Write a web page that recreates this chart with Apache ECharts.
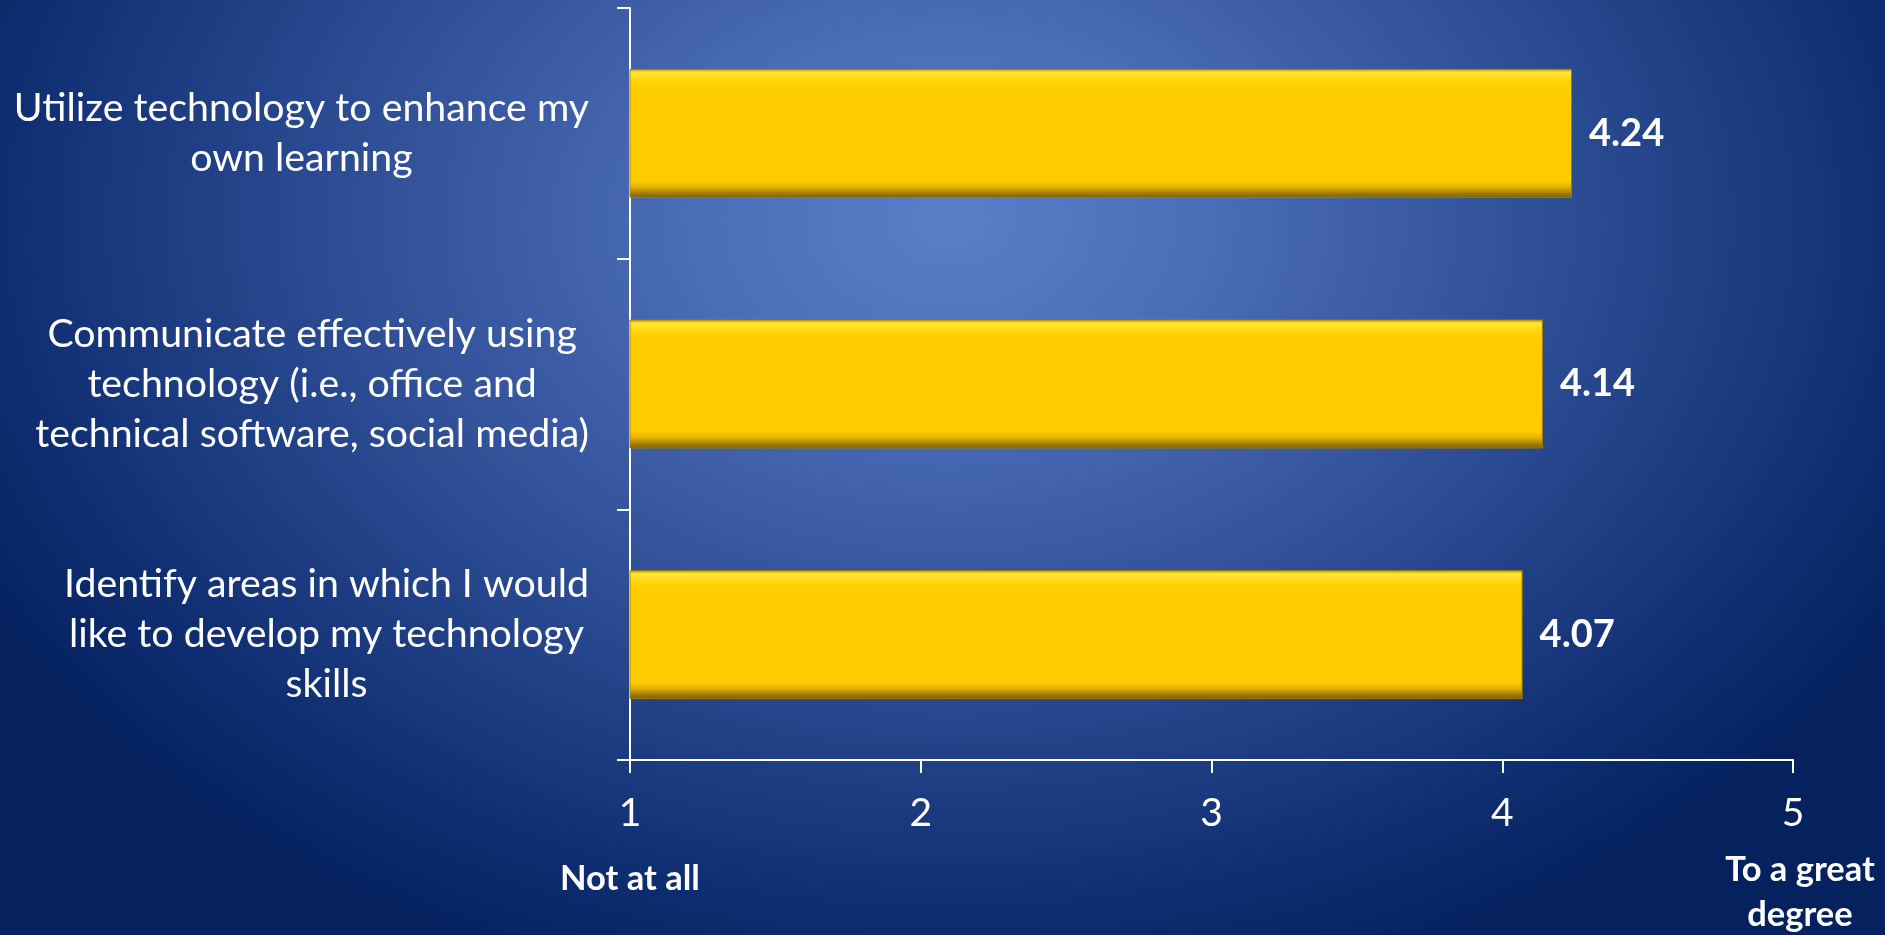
<!DOCTYPE html>
<html>
<head>
<meta charset="utf-8">
<script src="https://cdn.jsdelivr.net/npm/echarts@6/dist/echarts.min.js"></script>
<style>
  html, body { margin: 0; padding: 0; width: 100%; height: 100%; overflow: hidden; }
  body {
    background: radial-gradient(ellipse 1100px 800px at 950px 220px,
      #5c7ec8 0%, #4a6bb5 25%, #2d4d95 55%, #102f73 85%, #05225f 100%);
  }
  #chart { width: 1885px; height: 935px; }
</style>
</head>
<body>
<div id="chart"></div>
<script>
const categories = [
  'Utilize technology to enhance my\nown learning',
  'Communicate effectively using\ntechnology (i.e., office and\ntechnical software, social media)',
  'Identify areas in which I would\nlike to develop my technology\nskills'
];
const values = [4.24, 4.14, 4.07];
const scaleEndLabels = ['Not at all', '', '', '', 'To a great\ndegree'];

const FONT = 'Lato, "Open Sans", sans-serif';
const chart = echarts.init(document.getElementById('chart'), null, { renderer: 'canvas' });

const barGradient = new echarts.graphic.LinearGradient(0, 0, 0, 1, [
  { offset: 0.00, color: '#c99c00' },
  { offset: 0.03, color: '#ffe838' },
  { offset: 0.09, color: '#ffd60a' },
  { offset: 0.15, color: '#ffcc00' },
  { offset: 0.87, color: '#ffcc00' },
  { offset: 0.92, color: '#e0b000' },
  { offset: 0.97, color: '#9c7700' },
  { offset: 1.00, color: '#7a5c00' }
]);

chart.setOption({
  backgroundColor: 'transparent',
  animation: false,
  grid: { left: 630, right: 92, top: 8, bottom: 175, containLabel: false },
  xAxis: [
    {
      type: 'value',
      min: 1, max: 5, interval: 1,
      position: 'bottom',
      axisLine: { show: true, lineStyle: { color: '#ffffff', width: 2 } },
      axisTick: { show: true, length: 13, inside: false, lineStyle: { color: '#ffffff', width: 2 } },
      splitLine: { show: false },
      axisLabel: { color: '#ffffff', fontFamily: FONT, fontSize: 39, margin: 34 }
    },
    {
      type: 'value',
      min: 1, max: 5, interval: 1,
      position: 'bottom',
      axisLine: { show: false },
      axisTick: { show: false },
      splitLine: { show: false },
      axisLabel: {
        show: true,
        margin: 87,
        verticalAlign: 'top',
        showMinLabel: true,
        showMaxLabel: true,
        formatter: function (v) {
          const t = scaleEndLabels[Math.round(v) - 1] || '';
          if (!t) return '';
          const style = Math.round(v) === 1 ? 'a' : 'b';
          return t.split('\n').map(s => '{' + style + '|' + s + '}').join('\n');
        },
        rich: {
          a: { color: '#ffffff', fontFamily: FONT, fontWeight: 'bold', fontSize: 34.5, lineHeight: 63, align: 'center' },
          b: { color: '#ffffff', fontFamily: FONT, fontWeight: 'bold', fontSize: 34.5, lineHeight: 45, align: 'center', padding: [0, 0, 0, 14] }
        }
      }
    }
  ],
  yAxis: {
    type: 'category',
    data: categories,
    inverse: true,
    axisLine: { show: true, lineStyle: { color: '#ffffff', width: 2 } },
    axisTick: { show: true, length: 13, alignWithLabel: false, lineStyle: { color: '#ffffff', width: 2 } },
    splitLine: { show: false },
    axisLabel: {
      margin: 41,
      align: 'right',
      formatter: function (v) {
        return v.split('\n').map(s => '{c|' + s + '}').join('\n');
      },
      rich: {
        c: { color: '#ffffff', fontFamily: FONT, fontSize: 39.3, lineHeight: 50, align: 'center' }
      }
    }
  },
  series: [
    {
      type: 'bar',
      xAxisIndex: 0,
      data: values,
      barWidth: 129,
      itemStyle: {
        color: barGradient,
        borderColor: '#a27c00',
        borderWidth: 1
      },
      label: {
        show: true,
        position: 'right',
        distance: 17,
        color: '#ffffff',
        fontFamily: FONT,
        fontWeight: 'bold',
        fontSize: 38,
        formatter: function (p) { return p.value.toFixed(2); }
      }
    }
  ]
});
</script>
</body>
</html>
